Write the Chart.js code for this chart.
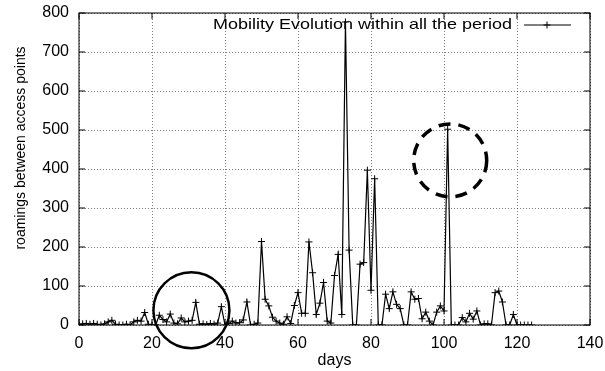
<!DOCTYPE html>
<html>
<head>
<meta charset="utf-8">
<script src="https://cdn.jsdelivr.net/npm/chart.js@4.4.0/dist/chart.umd.min.js"></script>
<style>
  html, body { margin: 0; padding: 0; background: #fff; }
</style>
</head>
<body>
<canvas id="mobilityChart" width="605" height="371"></canvas>
<script>
// data
const days = [
  0, 1, 2, 3, 4, 5, 6, 7, 8, 9, 10, 11, 12, 13, 14, 15, 16, 17, 18, 19,
  20, 21, 22, 23, 24, 25, 26, 27, 28, 29, 30, 31, 32, 33, 34, 35, 36, 37, 38, 39,
  40, 41, 42, 43, 44, 45, 46, 47, 48, 49, 50, 51, 52, 53, 54, 55, 56, 57, 58, 59,
  60, 61, 62, 63, 64, 65, 66, 67, 68, 69, 70, 71, 72, 73, 74, 75, 76, 77, 78, 79,
  80, 81, 82, 83, 84, 85, 86, 87, 88, 89, 90, 91, 92, 93, 94, 95, 96, 97, 98, 99,
  100, 101, 102, 103, 104, 105, 106, 107, 108, 109, 110, 111, 112, 113, 114, 115, 116, 117, 118, 119,
  120, 121, 122, 123, 124
];
const roamings = [
  0, 3, 4, 2, 4, 2, 0, 3, 8, 12, 2, 0, 0, 2, 0, 8, 12, 10, 32, 2,
  0, 0, 25, 14, 8, 28, 5, 3, 18, 8, 10, 12, 58, 2, 3, 1, 4, 2, 5, 47,
  0, 4, 10, 5, 6, 13, 59, 0, 2, 5, 214, 66, 49, 20, 10, 5, 2, 21, 4, 50,
  83, 30, 30, 213, 134, 27, 56, 109, 10, 5, 127, 181, 27, 777, 192, 0, 0, 156, 160, 397,
  89, 375, 0, 0, 79, 42, 85, 53, 42, 0, 0, 85, 66, 68, 16, 33, 10, 0, 33, 49,
  36, 502, 0, 0, 0, 19, 8, 30, 15, 36, 0, 3, 3, 0, 83, 87, 59, 0, 0, 27,
  0, 0, 0, 0, 0
];
const xTicks = [0, 20, 40, 60, 80, 100, 120, 140];
const yTicks = [0, 100, 200, 300, 400, 500, 600, 700, 800];
const seriesName = 'Mobility Evolution within all the period';

// hand drawn circles on the picture (centre in data units, radius in px)
const highlights = [
  { day: 30.8, value: 38, r: 38, dash: [], width: 2.5 },
  { day: 101.7, value: 422, r: 36.5, dash: [12, 8], width: 3.5 }
];

const FONT = '"Liberation Sans", Arial, Helvetica, sans-serif';

const points = days.map((d, i) => ({ x: d, y: roamings[i] }));

// frame, inner ticks, legend, y title and circles
const decorations = {
  id: 'decorations',
  afterDraw(chart) {
    const { ctx, chartArea: a, scales: { x, y } } = chart;
    ctx.save();
    ctx.strokeStyle = '#000';
    ctx.lineWidth = 1;
    ctx.setLineDash([]);
    ctx.strokeRect(a.left, a.top, a.right - a.left, a.bottom - a.top);

    const t = 6;
    ctx.beginPath();
    xTicks.forEach(v => {
      const px = x.getPixelForValue(v);
      ctx.moveTo(px, a.bottom); ctx.lineTo(px, a.bottom - t);
      ctx.moveTo(px, a.top); ctx.lineTo(px, a.top + t);
    });
    yTicks.forEach(v => {
      const py = y.getPixelForValue(v);
      ctx.moveTo(a.left, py); ctx.lineTo(a.left + t, py);
      ctx.moveTo(a.right, py); ctx.lineTo(a.right - t, py);
    });
    ctx.stroke();

    // legend (text is a bit wider in the reference, stretch it)
    ctx.fillStyle = '#000';
    ctx.font = '15px ' + FONT;
    ctx.textBaseline = 'middle';
    ctx.textAlign = 'left';
    const w = ctx.measureText(seriesName).width;
    ctx.save();
    ctx.translate(213, 25);
    ctx.scale(299 / w, 1);
    ctx.fillText(seriesName, 0, 0);
    ctx.restore();
    ctx.beginPath();
    ctx.moveTo(524, 25); ctx.lineTo(571, 25);
    ctx.moveTo(547, 21.5); ctx.lineTo(547, 28.5);
    ctx.moveTo(543.5, 25); ctx.lineTo(550.5, 25);
    ctx.stroke();

    // y axis title
    ctx.save();
    ctx.translate(21, 148);
    ctx.rotate(-Math.PI / 2);
    ctx.textAlign = 'center';
    ctx.font = '14px ' + FONT;
    ctx.fillText('roamings between access points', 0, 0);
    ctx.restore();

    // circles
    highlights.forEach(h => {
      ctx.beginPath();
      ctx.setLineDash(h.dash);
      ctx.lineWidth = h.width;
      ctx.arc(x.getPixelForValue(h.day), y.getPixelForValue(h.value), h.r, 0, Math.PI * 2);
      ctx.stroke();
    });
    ctx.restore();
  }
};

const ctx = document.getElementById('mobilityChart').getContext('2d');
const mobilityChart = new Chart(ctx, {
  type: 'line',
  data: {
    datasets: [{
      label: seriesName,
      data: points,
      borderColor: '#000',
      borderWidth: 1.2,
      pointStyle: 'cross',
      pointRadius: 3.5,
      pointBorderWidth: 1,
      pointBorderColor: '#000',
      fill: false,
      tension: 0
    }]
  },
  options: {
    responsive: false,
    animation: false,
    layout: { padding: 0, autoPadding: false },
    plugins: {
      legend: { display: false },
      tooltip: { enabled: false }
    },
    scales: {
      x: {
        type: 'linear',
        min: 0,
        max: 140,
        afterBuildTicks: s => { s.ticks = xTicks.map(v => ({ value: v })); },
        afterFit: s => { s.height = 46; s.paddingLeft = 0; s.paddingRight = 15; },
        grid: { color: 'rgba(0,0,0,0.5)', drawTicks: false, lineWidth: 1 },
        border: { display: false, dash: [1, 2] },
        ticks: { color: '#000', padding: 9, font: { family: FONT, size: 16 }, maxRotation: 0 },
        title: { display: true, text: 'days', color: '#000', font: { family: FONT, size: 16 }, padding: { top: 0, bottom: 1 } }
      },
      y: {
        min: 0,
        max: 800,
        afterBuildTicks: s => { s.ticks = yTicks.map(v => ({ value: v })); },
        afterFit: s => { s.width = 79; s.paddingTop = 13; s.paddingBottom = 0; },
        grid: { color: 'rgba(0,0,0,0.5)', drawTicks: false, lineWidth: 1 },
        border: { display: false, dash: [1, 2] },
        ticks: { color: '#000', padding: 10, font: { family: FONT, size: 16 } }
      }
    }
  },
  plugins: [decorations]
});
</script>
</body>
</html>
